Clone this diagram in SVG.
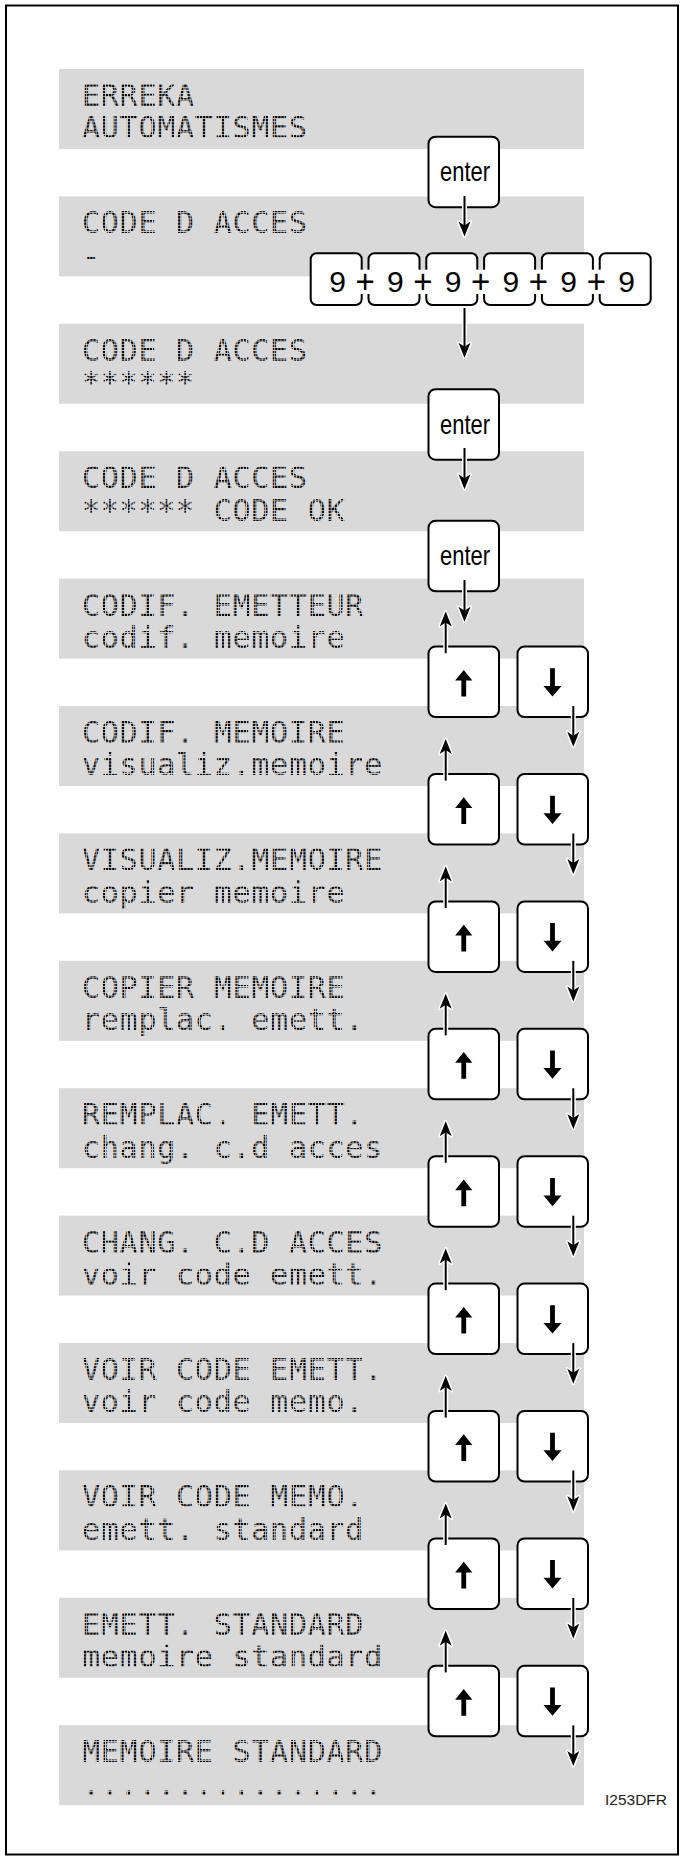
<svg xmlns="http://www.w3.org/2000/svg" xmlns:xlink="http://www.w3.org/1999/xlink" width="680" height="1861" viewBox="0 0 680 1861">
  <style>
    .panel { fill: #d9d9d9; }
    .lcd { font-family: "DejaVu Sans Mono", "Liberation Mono", monospace; font-size: 30px; letter-spacing: 0.75px; fill: url(#dots); }
    .key { fill: #fff; stroke: #000; stroke-width: 2; }
    .cap { font-family: "Liberation Sans", Arial, sans-serif; fill: #000; }
    .enter { font-size: 28px; text-anchor: middle; }
    .digit { font-size: 30px; text-anchor: middle; }
    .plus { font-size: 33px; text-anchor: middle; stroke: #fff; stroke-width: 8; paint-order: stroke; }
    .ref { font-family: "Liberation Sans", Arial, sans-serif; font-size: 14.5px; fill: #222; }
  </style>
  <defs>
    <!-- 5x7 LCD dot grid used to fill display text -->
    <pattern id="dots" patternUnits="userSpaceOnUse" x="84" y="0" width="3.133" height="3.133">
      <rect width="2.4" height="2.4" fill="#0a0a0a"/>
    </pattern>
    <marker id="tip" viewBox="-16 -7 17 14" refX="-10" refY="0" markerWidth="17" markerHeight="14" markerUnits="userSpaceOnUse" orient="auto">
      <path d="M0,0 L-15,-6 L-11,0 L-15,6 Z" fill="#000" stroke="none"/>
    </marker>
    <marker id="tipHalo" viewBox="-18 -9 21 18" refX="-10" refY="0" markerWidth="21" markerHeight="18" markerUnits="userSpaceOnUse" orient="auto">
      <path d="M0,0 L-15,-6 L-11,0 L-15,6 Z" fill="#fff" stroke="#fff" stroke-width="3" stroke-linejoin="round"/>
    </marker>
    <path id="icon-up" d="M0,-12 L8.6,-1.3 L2.4,-1.3 L2.4,14.7 L-2.4,14.7 L-2.4,-1.3 L-8.6,-1.3 Z" fill="#000"/>
    <path id="icon-down" d="M0,14.7 L9,4 L2.4,4 L2.4,-13.6 L-2.4,-13.6 L-2.4,4 L-9,4 Z" fill="#000"/>
  </defs>

  <rect x="6" y="5.5" width="672" height="1849" fill="#fff" stroke="#000" stroke-width="2"/>

  <!-- display screens -->
  <g id="screen-01"><rect class="panel" x="59" y="69" width="525" height="80"/><text class="lcd" x="82" y="106">ERREKA</text><text class="lcd" x="82" y="138.3">AUTOMATISMES</text></g>
  <g id="screen-02"><rect class="panel" x="59" y="196.4" width="525" height="80"/><text class="lcd" x="82" y="233.4">CODE D ACCES</text><text class="lcd" x="82" y="265.7">-</text></g>
  <g id="screen-03"><rect class="panel" x="59" y="323.8" width="525" height="80"/><text class="lcd" x="82" y="360.8">CODE D ACCES</text><text class="lcd" x="82" y="393.1">******</text></g>
  <g id="screen-04"><rect class="panel" x="59" y="451.2" width="525" height="80"/><text class="lcd" x="82" y="488.2">CODE D ACCES</text><text class="lcd" x="82" y="520.5">****** CODE OK</text></g>
  <g id="screen-05"><rect class="panel" x="59" y="578.6" width="525" height="80"/><text class="lcd" x="82" y="615.6">CODIF. EMETTEUR</text><text class="lcd" x="82" y="647.9">codif. memoire</text></g>
  <g id="screen-06"><rect class="panel" x="59" y="706" width="525" height="80"/><text class="lcd" x="82" y="743">CODIF. MEMOIRE</text><text class="lcd" x="82" y="775.3">visualiz.memoire</text></g>
  <g id="screen-07"><rect class="panel" x="59" y="833.4" width="525" height="80"/><text class="lcd" x="82" y="870.4">VISUALIZ.MEMOIRE</text><text class="lcd" x="82" y="902.7">copier memoire</text></g>
  <g id="screen-08"><rect class="panel" x="59" y="960.8" width="525" height="80"/><text class="lcd" x="82" y="997.8">COPIER MEMOIRE</text><text class="lcd" x="82" y="1030.1">remplac. emett.</text></g>
  <g id="screen-09"><rect class="panel" x="59" y="1088.2" width="525" height="80"/><text class="lcd" x="82" y="1125.2">REMPLAC. EMETT.</text><text class="lcd" x="82" y="1157.5">chang. c.d acces</text></g>
  <g id="screen-10"><rect class="panel" x="59" y="1215.6" width="525" height="80"/><text class="lcd" x="82" y="1252.6">CHANG. C.D ACCES</text><text class="lcd" x="82" y="1284.9">voir code emett.</text></g>
  <g id="screen-11"><rect class="panel" x="59" y="1343" width="525" height="80"/><text class="lcd" x="82" y="1380">VOIR CODE EMETT.</text><text class="lcd" x="82" y="1412.3">voir code memo.</text></g>
  <g id="screen-12"><rect class="panel" x="59" y="1470.4" width="525" height="80"/><text class="lcd" x="82" y="1507.4">VOIR CODE MEMO.</text><text class="lcd" x="82" y="1539.7">emett. standard</text></g>
  <g id="screen-13"><rect class="panel" x="59" y="1597.8" width="525" height="80"/><text class="lcd" x="82" y="1634.8">EMETT. STANDARD</text><text class="lcd" x="82" y="1667.1">memoire standard</text></g>
  <g id="screen-14"><rect class="panel" x="59" y="1725.2" width="525" height="80"/><text class="lcd" x="82" y="1762.2">MEMOIRE STANDARD</text><text class="lcd" x="82" y="1794.5">................</text></g>

  <!-- enter keys -->
  <g id="key-enter-1"><rect class="key" x="428.5" y="136.7" width="70.5" height="70.5" rx="7"/><text class="cap enter" x="465" y="181" textLength="50" lengthAdjust="spacingAndGlyphs">enter</text></g>
  <g id="key-enter-2"><rect class="key" x="428.5" y="389.2" width="70.5" height="70.5" rx="7"/><text class="cap enter" x="465" y="433.5" textLength="50" lengthAdjust="spacingAndGlyphs">enter</text></g>
  <g id="key-enter-3"><rect class="key" x="428.5" y="520.8" width="70.5" height="70.5" rx="7"/><text class="cap enter" x="465" y="565.1" textLength="50" lengthAdjust="spacingAndGlyphs">enter</text></g>

  <!-- access code entry: six digit keys -->
  <g id="key-code">
    <rect class="key" x="310.7" y="253.3" width="51" height="51.7" rx="6"/>
    <rect class="key" x="368.5" y="253.3" width="51" height="51.7" rx="6"/>
    <rect class="key" x="426.3" y="253.3" width="51" height="51.7" rx="6"/>
    <rect class="key" x="484.1" y="253.3" width="51" height="51.7" rx="6"/>
    <rect class="key" x="541.9" y="253.3" width="51" height="51.7" rx="6"/>
    <rect class="key" x="599.7" y="253.3" width="51" height="51.7" rx="6"/>
    <text class="cap digit" x="337.5" y="291.5">9</text>
    <text class="cap digit" x="395.3" y="291.5">9</text>
    <text class="cap digit" x="453.1" y="291.5">9</text>
    <text class="cap digit" x="510.9" y="291.5">9</text>
    <text class="cap digit" x="568.7" y="291.5">9</text>
    <text class="cap digit" x="626.5" y="291.5">9</text>
    <text class="cap plus" x="365.1" y="292.5">+</text>
    <text class="cap plus" x="422.9" y="292.5">+</text>
    <text class="cap plus" x="480.7" y="292.5">+</text>
    <text class="cap plus" x="538.5" y="292.5">+</text>
    <text class="cap plus" x="596.3" y="292.5">+</text>
  </g>

  <!-- up / down navigation keys -->
  <g id="keys-nav-1"><rect class="key" x="428.5" y="646.6" width="70.5" height="70.5" rx="7"/><rect class="key" x="517.5" y="646.6" width="70.5" height="70.5" rx="7"/><use href="#icon-up" x="463.75" y="681.9"/><use href="#icon-down" x="552.5" y="681.9"/></g>
  <g id="keys-nav-2"><rect class="key" x="428.5" y="774" width="70.5" height="70.5" rx="7"/><rect class="key" x="517.5" y="774" width="70.5" height="70.5" rx="7"/><use href="#icon-up" x="463.75" y="809.3"/><use href="#icon-down" x="552.5" y="809.3"/></g>
  <g id="keys-nav-3"><rect class="key" x="428.5" y="901.4" width="70.5" height="70.5" rx="7"/><rect class="key" x="517.5" y="901.4" width="70.5" height="70.5" rx="7"/><use href="#icon-up" x="463.75" y="936.7"/><use href="#icon-down" x="552.5" y="936.7"/></g>
  <g id="keys-nav-4"><rect class="key" x="428.5" y="1028.8" width="70.5" height="70.5" rx="7"/><rect class="key" x="517.5" y="1028.8" width="70.5" height="70.5" rx="7"/><use href="#icon-up" x="463.75" y="1064.1"/><use href="#icon-down" x="552.5" y="1064.1"/></g>
  <g id="keys-nav-5"><rect class="key" x="428.5" y="1156.2" width="70.5" height="70.5" rx="7"/><rect class="key" x="517.5" y="1156.2" width="70.5" height="70.5" rx="7"/><use href="#icon-up" x="463.75" y="1191.5"/><use href="#icon-down" x="552.5" y="1191.5"/></g>
  <g id="keys-nav-6"><rect class="key" x="428.5" y="1283.6" width="70.5" height="70.5" rx="7"/><rect class="key" x="517.5" y="1283.6" width="70.5" height="70.5" rx="7"/><use href="#icon-up" x="463.75" y="1318.9"/><use href="#icon-down" x="552.5" y="1318.9"/></g>
  <g id="keys-nav-7"><rect class="key" x="428.5" y="1411" width="70.5" height="70.5" rx="7"/><rect class="key" x="517.5" y="1411" width="70.5" height="70.5" rx="7"/><use href="#icon-up" x="463.75" y="1446.3"/><use href="#icon-down" x="552.5" y="1446.3"/></g>
  <g id="keys-nav-8"><rect class="key" x="428.5" y="1538.4" width="70.5" height="70.5" rx="7"/><rect class="key" x="517.5" y="1538.4" width="70.5" height="70.5" rx="7"/><use href="#icon-up" x="463.75" y="1573.7"/><use href="#icon-down" x="552.5" y="1573.7"/></g>
  <g id="keys-nav-9"><rect class="key" x="428.5" y="1665.8" width="70.5" height="70.5" rx="7"/><rect class="key" x="517.5" y="1665.8" width="70.5" height="70.5" rx="7"/><use href="#icon-up" x="463.75" y="1701.1"/><use href="#icon-down" x="552.5" y="1701.1"/></g>

  <!-- connectors: white knockout underneath, black line with arrowhead on top -->
  <g id="connectors">
    <use href="#wires" stroke="#fff" stroke-width="5" marker-end="url(#tipHalo)"/>
    <g stroke="#000" stroke-width="2" marker-end="url(#tip)">
      <g id="wires" fill="none">
        <path d="M464.5,196 V226.6"/>
        <path d="M464.5,308 V347.8"/>
        <path d="M464.5,448 V479.3"/>
        <path d="M464.5,580 V611.7"/>
        <!-- up -->
        <path d="M445.7,653.2 V621.6"/>
        <path d="M445.7,780.6 V749"/>
        <path d="M445.7,908 V876.4"/>
        <path d="M445.7,1035.4 V1003.8"/>
        <path d="M445.7,1162.8 V1131.2"/>
        <path d="M445.7,1290.2 V1258.6"/>
        <path d="M445.7,1417.6 V1386"/>
        <path d="M445.7,1545 V1513.4"/>
        <path d="M445.7,1672.4 V1640.8"/>
        <!-- down -->
        <path d="M573.3,706.1 V736.7"/>
        <path d="M573.3,833.5 V864.1"/>
        <path d="M573.3,960.9 V991.5"/>
        <path d="M573.3,1088.3 V1118.9"/>
        <path d="M573.3,1215.7 V1246.3"/>
        <path d="M573.3,1343.1 V1373.7"/>
        <path d="M573.3,1470.5 V1501.1"/>
        <path d="M573.3,1597.9 V1628.5"/>
        <path d="M573.3,1725.3 V1755.9"/>
      </g>
    </g>
  </g>

  <text class="ref" x="605" y="1805" textLength="62" lengthAdjust="spacingAndGlyphs">I253DFR</text>
</svg>
